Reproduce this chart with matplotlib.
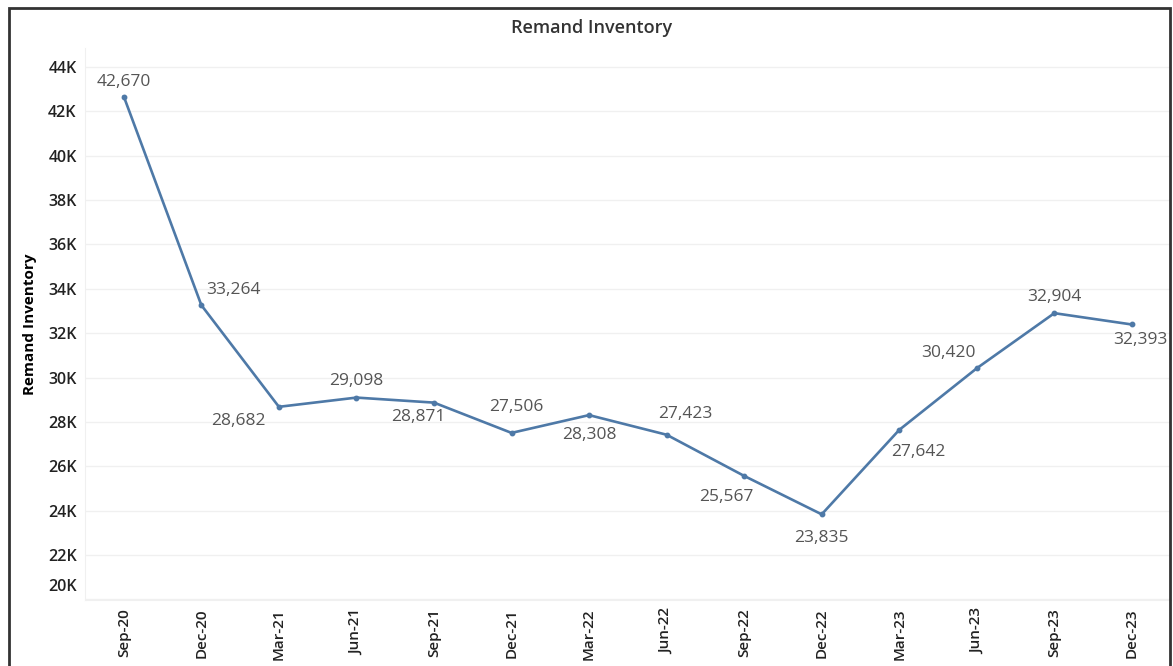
import matplotlib.pyplot as plt
from matplotlib.patches import Rectangle
from matplotlib.ticker import FuncFormatter

quarters = ["Sep-20", "Dec-20", "Mar-21", "Jun-21", "Sep-21", "Dec-21", "Mar-22",
            "Jun-22", "Sep-22", "Dec-22", "Mar-23", "Jun-23", "Sep-23", "Dec-23"]
inventory = [42670, 33264, 28682, 29098, 28871, 27506, 28308,
             27423, 25567, 23835, 27642, 30420, 32904, 32393]

# label offsets in pixels (dx, dy)
offsets = [(0, 15), (32, 15), (-41, -14), (0, 17), (-16, -14), (5, 26), (0, -20),
           (19, 21), (-18, -21), (0, -24), (19, -22), (-28, 15), (0, 16), (8, -16)]

plt.rcParams["font.family"] = ["Open Sans", "DejaVu Sans"]

fig = plt.figure(figsize=(11.73, 6.66), dpi=100)
ax = fig.add_axes([0.0725, 0.099, 0.9255, 0.829])

line_color = "#4e79a7"
ax.plot(range(len(quarters)), inventory, color=line_color, linewidth=1.9,
        marker="o", markersize=3.2)

for i, v in enumerate(inventory):
    dx, dy = offsets[i]
    ax.annotate(f"{v:,}", (i, v), xytext=(dx, dy), textcoords="offset pixels",
                ha="center", va="center", fontsize=12.5, color="#555555")

ax.set_xlim(-0.5, len(quarters) - 0.5)
ax.set_ylim(19970, 44860)
ax.set_yticks(range(20000, 44001, 2000))
# 20K label is drawn by hand a little above the axis bottom, like the reference
ax.yaxis.set_major_formatter(FuncFormatter(lambda v, p: "" if v < 21000 else f"{int(v / 1000)}K"))
ax.annotate("20K", xy=(0, 20000), xycoords=("axes fraction", "data"),
            xytext=(-8, 12), textcoords="offset pixels", ha="right", va="center",
            fontsize=11.5, fontweight="semibold", color="#222222")
ax.set_xticks(range(len(quarters)))
ax.set_xticklabels(quarters, rotation=90, fontsize=11, fontweight="semibold")
for lab in ax.get_yticklabels():
    lab.set_fontsize(11.5)
    lab.set_fontweight("semibold")

ax.grid(axis="y", color="#f0f0f0", linewidth=1)
ax.set_axisbelow(True)
for s in ["top", "right"]:
    ax.spines[s].set_visible(False)
ax.spines["left"].set_color("#f0f0f0")
ax.spines["bottom"].set_color("#f0f0f0")
ax.tick_params(axis="both", length=0, pad=6, colors="#222222")

ax.set_ylabel("Remand Inventory", fontsize=11, fontweight="bold", labelpad=8)
fig.text(0.504, 0.958, "Remand Inventory", ha="center", va="center",
         fontsize=13, fontweight="semibold", color="#333333")

# outer frame
fig.patches.append(Rectangle((9 / 1173, -0.05), 1161 / 1173, 1.05 - 8 / 666,
                             transform=fig.transFigure, fill=False,
                             edgecolor="#333333", linewidth=2))

plt.savefig("out.png")
